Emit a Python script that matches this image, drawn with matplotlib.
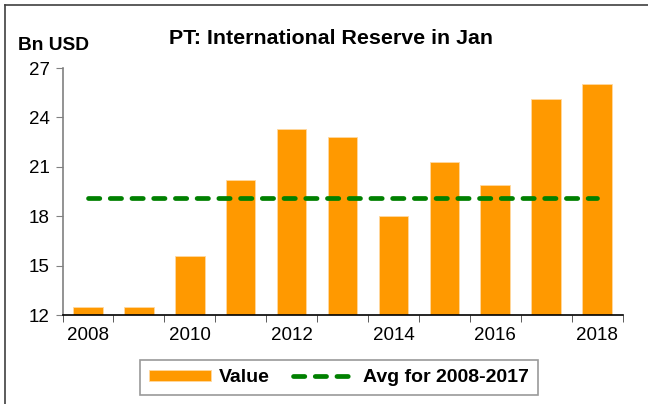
import numpy as np
import matplotlib.pyplot as plt
from matplotlib.lines import Line2D

plt.rcParams['font.family'] = ['Liberation Sans', 'DejaVu Sans']

years = [2008, 2009, 2010, 2011, 2012, 2013, 2014, 2015, 2016, 2017, 2018]
values = [12.5, 12.5, 15.6, 20.2, 23.3, 22.8, 18.0, 21.3, 19.9, 25.1, 26.0]
avg_value = [19.1] * len(years)
yticks = [12, 15, 18, 21, 24, 27]

fig = plt.figure(figsize=(6.48, 4.04), dpi=100)
ax = fig.add_axes([62.5 / 648, 89 / 404, 560 / 648, 247 / 404])

x = np.arange(len(years))
bars = ax.bar(x, [v - 12 for v in values], bottom=12, width=0.58,
              color='#FF9900', edgecolor='#FFD9A0', linewidth=0.6,
              label='Value', zorder=2)
avg_line, = ax.plot(x, avg_value, color='#008000', lw=3.4,
                    dashes=(2.4, 2.2), dash_capstyle='round',
                    label='Avg for 2008-2017', zorder=3)

ax.set_xlim(-0.5, len(years) - 0.5)
ax.set_ylim(12, 27)
ax.set_yticks(yticks)
ax.set_xticks(x[::2])
ax.set_xticklabels([str(y) for y in years[::2]])
ax.set_xticks(np.arange(-0.5, len(years), 1.0), minor=True)

ax.tick_params(axis='y', length=5, color='#808080', labelsize=13.5, pad=4)
ax.tick_params(axis='x', which='major', length=0, labelsize=13.5, pad=9)
ax.tick_params(axis='x', which='minor', length=5, color='#404040')

for s in ['top', 'right']:
    ax.spines[s].set_visible(False)
ax.spines['left'].set_color('#808080')
ax.spines['left'].set_linewidth(1.2)
ax.spines['bottom'].set_color('black')
ax.spines['bottom'].set_linewidth(1.2)

fig.text(331 / 648, 1 - 38 / 404, 'PT: International Reserve in Jan',
         ha='center', va='center', fontsize=15.4, fontweight='bold')
fig.text(18 / 648, 1 - 46 / 404, 'Bn USD', ha='left', va='center',
         fontsize=13.8, fontweight='bold')

handle_line = Line2D([], [], color='#008000', lw=3.4, dashes=(2.4, 2.2),
                     dash_capstyle='round')
leg = fig.legend([bars, handle_line], ['Value', 'Avg for 2008-2017'],
                 loc='center', bbox_to_anchor=(339 / 648, 26.5 / 404),
                 ncol=2, frameon=True, fancybox=False, edgecolor='#808080',
                 handlelength=3.2, handleheight=0.5, columnspacing=1.2,
                 handletextpad=0.4, borderpad=0.45,
                 prop={'weight': 'bold', 'size': 14})
leg.get_frame().set_linewidth(1.2)

# figure border (left and top visible)
fig.add_artist(Line2D([5 / 648, 5 / 648], [0, 1 - 5 / 404], color='#404040',
                      lw=1.2, transform=fig.transFigure))
fig.add_artist(Line2D([5 / 648, 1], [1 - 5 / 404, 1 - 5 / 404], color='#404040',
                      lw=1.2, transform=fig.transFigure))

fig.savefig('out.png', dpi=100)
